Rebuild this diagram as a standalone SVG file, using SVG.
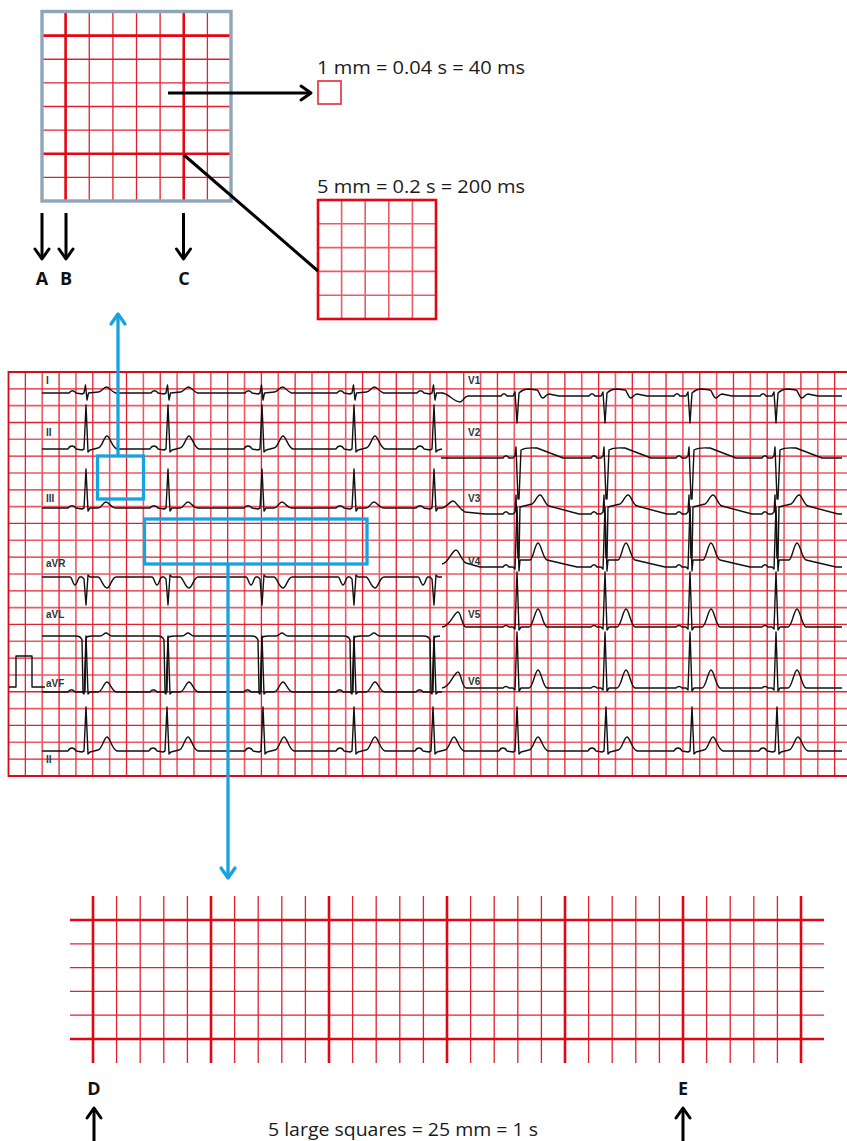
<svg xmlns="http://www.w3.org/2000/svg" width="847" height="1141" viewBox="0 0 847 1141">
<style>
.txt{font-family:"Open Sans","Liberation Sans",sans-serif;font-size:18px;fill:#1a1a1a}
.lbl{font-family:"Open Sans","Liberation Sans",sans-serif;font-size:18px;font-weight:700;fill:#111;text-anchor:middle}
.lead{font-family:"Liberation Sans",Arial,sans-serif;font-size:10px;font-weight:700;fill:#333}
.thick{stroke:#e30613;stroke-width:2.6;fill:none}
.thin{stroke:#e3202e;stroke-width:1.3;fill:none}
.pale{stroke:#ec5a66;stroke-width:1.6;fill:none}
.ecg{stroke:#111;stroke-width:1.4;fill:none;stroke-linejoin:round}
.blk{stroke:#000;stroke-width:3;fill:none}
.blu{stroke:#17a2e2;stroke-width:3.3;fill:none}
</style>
<defs>
<marker id="chevK" viewBox="0 0 14 20" refX="12" refY="10" markerWidth="14" markerHeight="20" markerUnits="userSpaceOnUse" orient="auto" overflow="visible">
<path d="M2 3L12 10L2 17" fill="none" stroke="#000" stroke-width="3" stroke-linecap="round" stroke-linejoin="round"/>
</marker>
<marker id="chevB" viewBox="0 0 14 20" refX="12" refY="10" markerWidth="14" markerHeight="20" markerUnits="userSpaceOnUse" orient="auto" overflow="visible">
<path d="M2 3L12 10L2 17" fill="none" stroke="#17a2e2" stroke-width="3.3" stroke-linecap="round" stroke-linejoin="round"/>
</marker>
</defs>
<rect width="847" height="1141" fill="#fff"/>

<g id="zoom-grid">
<path class="thin" d="M89.25 12V201M112.9 12V201M136.5 12V201M160.1 12V201M207.4 12V201M42 59.25H231M42 82.9H231M42 106.5H231M42 130.1H231M42 177.4H231"/>
<path class="thick" d="M65.6 12V201M183.75 12V201M42 35.6H231M42 153.75H231"/>
<rect x="42" y="11.5" width="189" height="189.5" fill="none" stroke="#8fa6b8" stroke-width="3.4"/>
</g>

<g id="small-square">
<rect x="318" y="81" width="23" height="23" fill="none" stroke="#e8414d" stroke-width="1.8"/>
<text class="txt" x="317" y="74" textLength="208" lengthAdjust="spacingAndGlyphs">1 mm = 0.04 s = 40 ms</text>
</g>

<g id="large-square">
<path class="pale" d="M341.6 200V319M365.2 200V319M388.8 200V319M412.4 200V319M318 223.8H436M318 247.6H436M318 271.4H436M318 295.2H436"/>
<rect x="318" y="200" width="118" height="119" class="thick"/>
<text class="txt" x="317" y="193" textLength="208" lengthAdjust="spacingAndGlyphs">5 mm = 0.2 s = 200 ms</text>
</g>

<g id="labels-abc">
<text class="lbl" x="42" y="285">A</text>
<text class="lbl" x="66" y="285">B</text>
<text class="lbl" x="184" y="285">C</text>
</g>

<g id="ecg">
<path class="pale" d="M42.22 372V776M75.94 372V776M109.66 372V776M143.38 372V776M177.1 372V776M210.82 372V776M244.54 372V776M278.26 372V776M311.98 372V776M345.7 372V776M379.42 372V776M413.14 372V776M446.86 372V776M480.58 372V776M514.3 372V776M548.02 372V776M581.74 372V776M615.46 372V776M649.18 372V776M682.9 372V776M716.62 372V776M750.34 372V776M784.06 372V776M817.78 372V776M8.5 405.66H847M8.5 439.32H847M8.5 472.98H847M8.5 506.64H847M8.5 540.3H847M8.5 573.96H847M8.5 607.62H847M8.5 641.28H847M8.5 674.94H847M8.5 708.6H847M8.5 742.26H847"/>
<path class="thin" d="M25.36 372V776M59.08 372V776M92.8 372V776M126.52 372V776M160.24 372V776M193.96 372V776M227.68 372V776M261.4 372V776M295.12 372V776M328.84 372V776M362.56 372V776M396.28 372V776M430 372V776M463.72 372V776M497.44 372V776M531.16 372V776M564.88 372V776M598.6 372V776M632.32 372V776M666.04 372V776M699.76 372V776M733.48 372V776M767.2 372V776M800.92 372V776M834.64 372V776M8.5 388.83H847M8.5 422.49H847M8.5 456.15H847M8.5 489.81H847M8.5 523.47H847M8.5 557.13H847M8.5 590.79H847M8.5 624.45H847M8.5 658.11H847M8.5 691.77H847M8.5 725.43H847M8.5 759.09H847"/>
<path d="M847 372H8.5V776H847" fill="none" stroke="#d90a18" stroke-width="1.8"/>

<path class="ecg" d="M42 393H69c2 -3 5 -3 7 0l6 1l2 -1l1.5 -8l1.5 15l1.5 -7l10 -1c3 0 5 -5 8 -5c3 0 5 5 9 6H151c2 -3 5 -3 7 0l6 1l2 -1l1.5 -8l1.5 15l1.5 -7l10 -1c3 0 5 -5 8 -5c3 0 5 5 9 6H245c2 -3 5 -3 7 0l6 1l2 -1l1.5 -8l1.5 15l1.5 -7l10 -1c3 0 5 -5 8 -5c3 0 5 5 9 6H337c2 -3 5 -3 7 0l6 1l2 -1l1.5 -8l1.5 15l1.5 -7l10 -1c3 0 5 -5 8 -5c3 0 5 5 9 6H417c2 -3 5 -3 7 0l6 1l2 -1l1.5 -8l1.5 15l1.5 -7l6 0"/>
<path class="ecg" d="M42 449H68c2 -4 6 -4 8 0l6 1l2 -1l2 -44l2 47l2 -2l8 -2c4 0 6 -12 9 -12c3 0 5 12 10 13H150c2 -4 6 -4 8 0l6 1l2 -1l2 -44l2 47l2 -2l8 -2c4 0 6 -12 9 -12c3 0 5 12 10 13H244c2 -4 6 -4 8 0l6 1l2 -1l2 -44l2 47l2 -2l8 -2c4 0 6 -12 9 -12c3 0 5 12 10 13H336c2 -4 6 -4 8 0l6 1l2 -1l2 -44l2 47l2 -2l8 -2c4 0 6 -12 9 -12c3 0 5 12 10 13H416c2 -4 6 -4 8 0l6 1l2 -1l2 -44l2 47l2 -2l4 -1"/>
<path class="ecg" d="M42 508H68c2 -3 6 -3 8 0l6 1l2 -1l2 -39l2 42l2 -3l8 0c4 0 5 -6 8 -6c3 0 5 6 10 6H150c2 -3 6 -3 8 0l6 1l2 -1l2 -39l2 42l2 -3l8 0c4 0 5 -6 8 -6c3 0 5 6 10 6H244c2 -3 6 -3 8 0l6 1l2 -1l2 -39l2 42l2 -3l8 0c4 0 5 -6 8 -6c3 0 5 6 10 6H336c2 -3 6 -3 8 0l6 1l2 -1l2 -39l2 42l2 -3l8 0c4 0 5 -6 8 -6c3 0 5 6 10 6H416c2 -3 6 -3 8 0l6 1l2 -1l2 -39l2 42l2 -3l4 0"/>
<path class="ecg" d="M42 577H70c2 0 3 8 5 8c2 0 3 -8 5 -8l2 0l2 2l2 26l2 -30l2 2l8 0c3 0 5 11 9 11c3 0 5 -11 9 -11H152c2 0 3 8 5 8c2 0 3 -8 5 -8l2 0l2 2l2 26l2 -30l2 2l8 0c3 0 5 11 9 11c3 0 5 -11 9 -11H246c2 0 3 8 5 8c2 0 3 -8 5 -8l2 0l2 2l2 26l2 -30l2 2l8 0c3 0 5 11 9 11c3 0 5 -11 9 -11H338c2 0 3 8 5 8c2 0 3 -8 5 -8l2 0l2 2l2 26l2 -30l2 2l8 0c3 0 5 11 9 11c3 0 5 -11 9 -11H418c2 0 3 8 5 8c2 0 3 -8 5 -8l2 0l2 2l2 26l2 -30l2 2l4 0"/>
<path class="ecg" d="M42 636H76c3 0 5 1 6 4l1 52l2 0l1 -54c1 -2 3 -2 6 -2l8 0c3 0 4 -3 6 -3c2 0 3 3 6 3H158c3 0 5 1 6 4l1 52l2 0l1 -54c1 -2 3 -2 6 -2l8 0c3 0 4 -3 6 -3c2 0 3 3 6 3H252c3 0 5 1 6 4l1 52l2 0l1 -54c1 -2 3 -2 6 -2l8 0c3 0 4 -3 6 -3c2 0 3 3 6 3H344c3 0 5 1 6 4l1 52l2 0l1 -54c1 -2 3 -2 6 -2l8 0c3 0 4 -3 6 -3c2 0 3 3 6 3H424c3 0 5 1 6 4l1 52l2 0l1 -54c1 -2 3 -2 6 -2"/>
<path class="ecg" d="M9 687H16V656H32V687H45"/>
<path class="ecg" d="M42 692H68c2 -3 5 -3 7 0l7 0l2 2l2 -58l2 58l2 -2l8 0c4 0 6 -10 9 -10c3 0 5 10 10 10H150c2 -3 5 -3 7 0l7 0l2 2l2 -58l2 58l2 -2l8 0c4 0 6 -10 9 -10c3 0 5 10 10 10H244c2 -3 5 -3 7 0l7 0l2 2l2 -58l2 58l2 -2l8 0c4 0 6 -10 9 -10c3 0 5 10 10 10H336c2 -3 5 -3 7 0l7 0l2 2l2 -58l2 58l2 -2l8 0c4 0 6 -10 9 -10c3 0 5 10 10 10H416c2 -3 5 -3 7 0l7 0l2 2l2 -58l2 58l2 -2l4 0"/>
<path class="ecg" d="M42 751H68c2 -4 6 -4 8 0l6 1l2 -1l2 -44l2 47l2 -2l8 -2c4 0 6 -13 9 -13c3 0 5 13 10 14H149c2 -4 6 -4 8 0l6 1l2 -1l2 -44l2 47l2 -2l8 -2c4 0 6 -13 9 -13c3 0 5 13 10 14H245c2 -4 6 -4 8 0l6 1l2 -1l2 -44l2 47l2 -2l8 -2c4 0 6 -13 9 -13c3 0 5 13 10 14H336c2 -4 6 -4 8 0l6 1l2 -1l2 -44l2 47l2 -2l8 -2c4 0 6 -13 9 -13c3 0 5 13 10 14H415c2 -4 6 -4 8 0l6 1l2 -1l2 -44l2 47l2 -2l8 -2c4 0 6 -13 9 -13c3 0 5 13 10 14H499c2 -4 6 -4 8 0l6 1l2 -1l2 -44l2 47l2 -2l8 -2c4 0 6 -13 9 -13c3 0 5 13 10 14H588c2 -4 6 -4 8 0l6 1l2 -1l2 -44l2 47l2 -2l8 -2c4 0 6 -13 9 -13c3 0 5 13 10 14H674c2 -4 6 -4 8 0l6 1l2 -1l2 -44l2 47l2 -2l8 -2c4 0 6 -13 9 -13c3 0 5 13 10 14H759c2 -4 6 -4 8 0l6 1l2 -1l2 -44l2 47l2 -2l8 -2c4 0 6 -13 9 -13c3 0 5 13 10 14H842"/>

<path class="ecg" d="M442 393c6 0 12 9 18 9c3 0 4 -6 8 -6H501c2 -3 4 -3 6 0l6 0l2 -4l2 31l2 -30c3 -3 6 -4 10 -4l8 1c2 0 3 8 6 8c2 0 3 -4 6 -4l10 2H589c2 -3 4 -3 6 0l6 0l2 -4l2 31l2 -30c3 -3 6 -4 10 -4l8 1c2 0 3 8 6 8c2 0 3 -4 6 -4l10 2H674c2 -3 4 -3 6 0l6 0l2 -4l2 31l2 -30c3 -3 6 -4 10 -4l8 1c2 0 3 8 6 8c2 0 3 -4 6 -4l10 2H760c2 -3 4 -3 6 0l6 0l2 -4l2 31l2 -30c3 -3 6 -4 10 -4l8 1c2 0 3 8 6 8c2 0 3 -4 6 -4l10 2H842"/>
<path class="ecg" d="M441 458H503c2 -3 4 -3 6 0l4 0l2 -2l1 -9l2 52l1 0l2 -49c5 -3 12 -2 16 -2l26 10H591c2 -3 4 -3 6 0l4 0l2 -2l1 -9l2 52l1 0l2 -49c5 -3 12 -2 16 -2l26 10H676c2 -3 4 -3 6 0l4 0l2 -2l1 -9l2 52l1 0l2 -49c5 -3 12 -2 16 -2l26 10H762c2 -3 4 -3 6 0l4 0l2 -2l1 -9l2 52l1 0l2 -49c5 -3 12 -2 16 -2l26 10H842"/>
<path class="ecg" d="M442 508c4 0 8 -7 11 -7c3 0 5 7 12 11l20 2H503c2 -3 4 -3 6 0l4 0l2 -2l1 -17l2 63l1 0l1 -51l12 -3c3 -1 5 -9 8 -9c3 0 5 10 9 11l30 8H591c2 -3 4 -3 6 0l4 0l2 -2l1 -17l2 63l1 0l1 -51l12 -3c3 -1 5 -9 8 -9c3 0 5 10 9 11l30 8H676c2 -3 4 -3 6 0l4 0l2 -2l1 -17l2 63l1 0l1 -51l12 -3c3 -1 5 -9 8 -9c3 0 5 10 9 11l30 8H762c2 -3 4 -3 6 0l4 0l2 -2l1 -17l2 63l1 0l1 -51l12 -3c3 -1 5 -9 8 -9c3 0 5 10 9 11l30 8H842"/>
<path class="ecg" d="M442 564c6 0 10 -14 14 -14c3 0 6 12 10 13l14 4H503c2 -3 4 -3 6 0l4 0l2 2l2 -62l2 64l1 -11l10 0c3 0 5 -17 8 -17c3 0 5 16 9 17l30 7H591c2 -3 4 -3 6 0l4 0l2 2l2 -62l2 64l1 -11l10 0c3 0 5 -17 8 -17c3 0 5 16 9 17l30 7H676c2 -3 4 -3 6 0l4 0l2 2l2 -62l2 64l1 -11l10 0c3 0 5 -17 8 -17c3 0 5 16 9 17l30 7H762c2 -3 4 -3 6 0l4 0l2 2l2 -62l2 64l1 -11l10 0c3 0 5 -17 8 -17c3 0 5 16 9 17l30 7H842"/>
<path class="ecg" d="M442 627c8 0 12 -15 16 -15c3 0 4 15 8 15H503c2 -2 4 -2 6 0l4 0l2 2l2 -57l2 58l2 -3l8 0c4 0 6 -18 9 -18c3 0 5 17 9 18H591c2 -2 4 -2 6 0l4 0l2 2l2 -57l2 58l2 -3l8 0c4 0 6 -18 9 -18c3 0 5 17 9 18H676c2 -2 4 -2 6 0l4 0l2 2l2 -57l2 58l2 -3l8 0c4 0 6 -18 9 -18c3 0 5 17 9 18H762c2 -2 4 -2 6 0l4 0l2 2l2 -57l2 58l2 -3l8 0c4 0 6 -18 9 -18c3 0 5 17 9 18H842"/>
<path class="ecg" d="M442 688c8 0 12 -16 16 -16c3 0 4 16 8 16H503c2 -2 4 -2 6 0l4 0l2 2l2 -58l2 59l2 -3l8 0c4 0 6 -18 9 -18c3 0 5 17 9 18H591c2 -2 4 -2 6 0l4 0l2 2l2 -58l2 59l2 -3l8 0c4 0 6 -18 9 -18c3 0 5 17 9 18H676c2 -2 4 -2 6 0l4 0l2 2l2 -58l2 59l2 -3l8 0c4 0 6 -18 9 -18c3 0 5 17 9 18H762c2 -2 4 -2 6 0l4 0l2 2l2 -58l2 59l2 -3l8 0c4 0 6 -18 9 -18c3 0 5 17 9 18H842"/>

<text class="lead" x="46" y="384">I</text>
<text class="lead" x="46" y="436">II</text>
<text class="lead" x="46" y="502">III</text>
<text class="lead" x="46" y="567">aVR</text>
<text class="lead" x="46" y="618">aVL</text>
<text class="lead" x="46" y="687">aVF</text>
<text class="lead" x="46" y="763">II</text>
<text class="lead" x="468" y="384">V1</text>
<text class="lead" x="468" y="436">V2</text>
<text class="lead" x="468" y="502">V3</text>
<text class="lead" x="468" y="565">V4</text>
<text class="lead" x="468" y="618">V5</text>
<text class="lead" x="468" y="685">V6</text>
</g>

<g id="highlight-boxes">
<rect class="blu" x="97.5" y="456" width="46" height="43"/>
<rect class="blu" x="144.5" y="519" width="222.5" height="45"/>
</g>

<g id="bottom-grid">
<path class="thin" d="M116.6 896V1063M140.2 896V1063M163.8 896V1063M187.4 896V1063M234.6 896V1063M258.2 896V1063M281.8 896V1063M305.4 896V1063M352.6 896V1063M376.2 896V1063M399.8 896V1063M423.4 896V1063M470.6 896V1063M494.2 896V1063M517.8 896V1063M541.4 896V1063M588.6 896V1063M612.2 896V1063M635.8 896V1063M659.4 896V1063M706.6 896V1063M730.2 896V1063M753.8 896V1063M777.4 896V1063M70 943.8H824M70 967.6H824M70 991.4H824M70 1015.2H824"/>
<path class="thick" d="M93 896V1063M211 896V1063M329 896V1063M447 896V1063M565 896V1063M683 896V1063M801 896V1063M70 920H824M70 1039H824"/>
<text class="lbl" x="94" y="1095">D</text>
<text class="lbl" x="683" y="1095">E</text>
<text class="txt" x="268" y="1136" textLength="270" lengthAdjust="spacingAndGlyphs">5 large squares = 25 mm = 1 s</text>
</g>

<g id="connectors">
<line class="blk" x1="168" y1="93" x2="311" y2="93" marker-end="url(#chevK)"/>
<line class="blk" x1="184" y1="155" x2="318" y2="271"/>
<line class="blk" x1="42" y1="213" x2="42" y2="259" marker-end="url(#chevK)"/>
<line class="blk" x1="66" y1="213" x2="66" y2="259" marker-end="url(#chevK)"/>
<line class="blk" x1="183.5" y1="213" x2="183.5" y2="259" marker-end="url(#chevK)"/>
<line class="blu" x1="118" y1="456" x2="118" y2="314" marker-end="url(#chevB)"/>
<line class="blu" x1="228" y1="564" x2="228" y2="878" marker-end="url(#chevB)"/>
<line class="blk" x1="94" y1="1145" x2="94" y2="1108" marker-end="url(#chevK)"/>
<line class="blk" x1="683" y1="1145" x2="683" y2="1108" marker-end="url(#chevK)"/>
</g>
</svg>
